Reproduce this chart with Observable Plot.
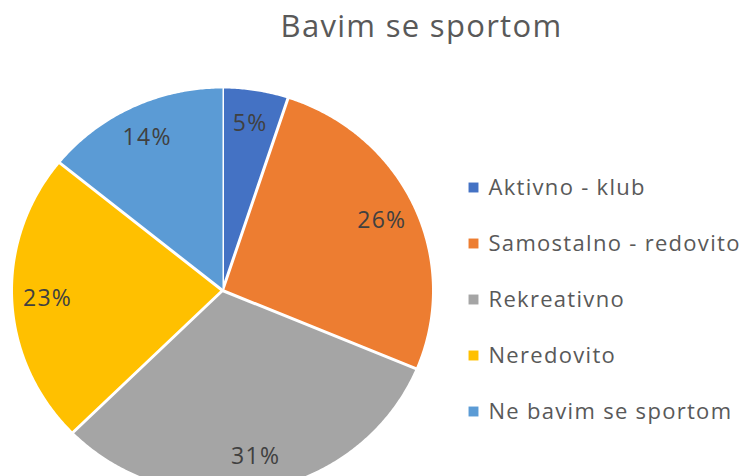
<!DOCTYPE html>
<html>
<head>
<meta charset="utf-8">
<script src="https://cdn.jsdelivr.net/npm/d3@7"></script>
<script src="https://cdn.jsdelivr.net/npm/@observablehq/plot@0.6"></script>
<style>
  html, body { margin: 0; padding: 0; background: #fff; }
  #chart svg { display: block; overflow: hidden; }
</style>
</head>
<body>
<div id="chart"></div>
<script>
// Survey answers: "Bavim se sportom" (share of respondents, %)
const title = "Bavim se sportom";
const categories = ["Aktivno - klub", "Samostalno - redovito", "Rekreativno", "Neredovito", "Ne bavim se sportom"];
const shares = [5, 26, 31, 23, 14];
const colors = ["#4472C4", "#ED7D31", "#A5A5A5", "#FFC000", "#5B9BD5"];

const W = 746, H = 476;
const total = d3.sum(shares);

// Slice angles, clockwise from 12 o'clock
const slices = [];
let acc = 0;
categories.forEach((cat, i) => {
  const a0 = (acc / total) * 2 * Math.PI;
  acc += shares[i];
  const a1 = (acc / total) * 2 * Math.PI;
  slices.push({cat, value: shares[i], a0, a1, mid: (a0 + a1) / 2});
});

// Wedge outlines in unit pie coordinates: centre, then the arc
const wedgePoints = slices.flatMap(s => {
  const n = Math.max(2, Math.ceil((s.a1 - s.a0) / (Math.PI / 360)));
  const pts = [{cat: s.cat, x: 0, y: 0}];
  for (let k = 0; k <= n; k++) {
    const a = s.a0 + (s.a1 - s.a0) * k / n;
    pts.push({cat: s.cat, x: Math.sin(a), y: Math.cos(a)});
  }
  return pts;
});

// Percentage labels, placed inside each wedge along its bisector
const labelR = 0.83;
const labelData = slices.map(s => ({
  text: `${s.value}%`,
  x: labelR * Math.sin(s.mid),
  y: labelR * Math.cos(s.mid)
}));

const font = "'Open Sans', 'Noto Sans', sans-serif";
const legendX = 466, legendY0 = 187, legendStep = 56;

const chart = Plot.plot({
  width: W,
  height: H,
  margin: 0,
  style: {fontFamily: font, background: "#fff", letterSpacing: "1.3px"},
  x: {domain: [-1, 1], range: [11, 433], axis: null},
  y: {domain: [-1, 1], range: [493.5, 86.5], axis: null},
  color: {domain: categories, range: colors},
  marks: [
    Plot.line(wedgePoints, {
      x: "x", y: "y", z: "cat", fill: "cat",
      stroke: "white", strokeWidth: 3, strokeLinejoin: "round"
    }),
    Plot.text(labelData, {
      x: "x", y: "y", text: "text",
      fill: "#404040", fontSize: 23
    }),
    Plot.text([title], {
      frameAnchor: "top-left", dx: 421, dy: 27,
      textAnchor: "middle", lineAnchor: "middle",
      fill: "#595959", fontSize: 31
    }),
    ...categories.flatMap((cat, i) => [
      Plot.dot([cat], {
        frameAnchor: "top-left", dx: legendX + 7, dy: legendY0 + legendStep * i,
        symbol: "square", r: 5.6, fill: colors[i], stroke: "none"
      }),
      Plot.text([cat], {
        frameAnchor: "top-left", dx: legendX + 22, dy: legendY0 + legendStep * i,
        textAnchor: "start", lineAnchor: "middle",
        fill: "#595959", fontSize: 22
      })
    ])
  ]
});

document.getElementById("chart").appendChild(chart);
</script>
</body>
</html>
